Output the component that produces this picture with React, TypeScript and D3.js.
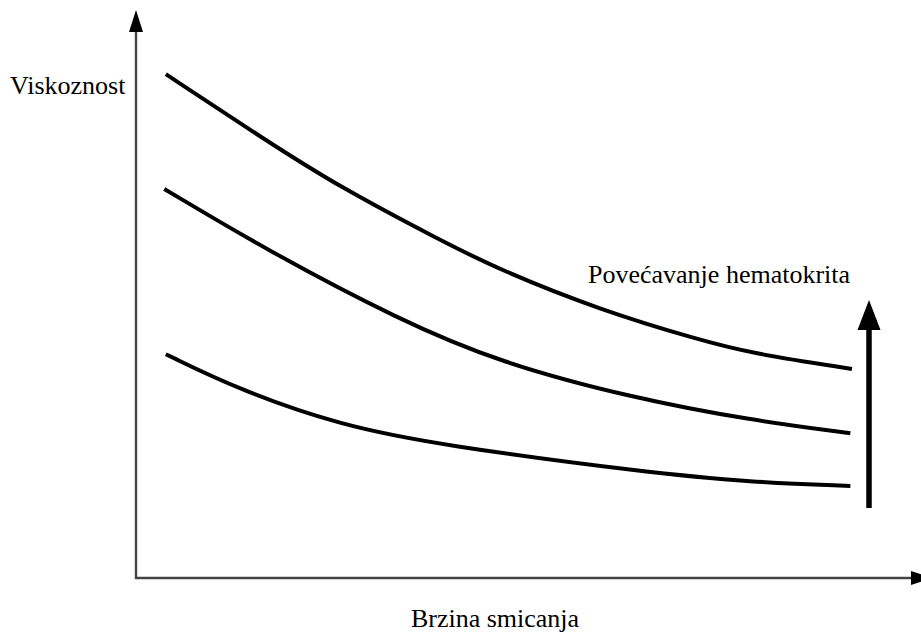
import React from "react";
import * as d3 from "d3";

const xLabel = "Brzina smicanja";
const yLabel = "Viskoznost";
const arrowLabel = "Povećavanje hematokrita";

// shear rate (0..100) / viscosity (0..100), arbitrary units
const topX = [3.8, 16.7, 26.0, 38.7, 46.4, 59.1, 71.8, 78.2, 91.2];
const topY = [88.7, 76.9, 68.8, 59.5, 54.2, 47.2, 41.9, 39.6, 36.8];
const midX = [3.6, 16.7, 33.6, 46.4, 63.3, 78.2, 91.0];
const midY = [68.5, 57.7, 45.4, 37.9, 31.7, 27.8, 25.5];
const lowX = [3.8, 13.2, 26.0, 38.7, 65.5, 78.2, 91.0];
const lowY = [39.4, 33.1, 26.9, 23.4, 18.5, 16.9, 16.2];

const series = [
  { xs: topX, ys: topY },
  { xs: midX, ys: midY },
  { xs: lowX, ys: lowY },
];

export default function App() {
  const W = 921, H = 633;
  const x = d3.scaleLinear().domain([0, 100]).range([136, 921]);
  const y = d3.scaleLinear().domain([0, 100]).range([578, 10]);
  const line = d3
    .line<[number, number]>()
    .x((d) => x(d[0]))
    .y((d) => y(d[1]))
    .curve(d3.curveBasis);

  const x0 = x(0), y0 = y(0);
  const yTop = y(100);
  const arrowX = 869;
  const arrowTop = 300, arrowBottom = 508;

  return (
    <svg
      width={W}
      height={H}
      style={{ position: "absolute", left: 0, top: 0, background: "#fff" }}
    >
      {/* axes */}
      <line x1={x0} y1={y0 + 1} x2={x0} y2={yTop + 20} stroke="#444" strokeWidth={2.4} />
      <line x1={x0 - 1} y1={y0} x2={914} y2={y0} stroke="#444" strokeWidth={2.4} />
      <polygon
        points={`${x0},${yTop} ${x0 - 7},${yTop + 22} ${x0 + 7},${yTop + 22}`}
        fill="#000"
      />
      <polygon
        points={`932,${y0} 911,${y0 - 7} 911,${y0 + 7}`}
        fill="#000"
      />

      {/* curves */}
      {series.map((s, i) => (
        <path
          key={i}
          d={line(s.xs.map((v, j) => [v, s.ys[j]]) as [number, number][]) || ""}
          fill="none"
          stroke="#000"
          strokeWidth={4}
        />
      ))}

      {/* increasing hematocrit arrow */}
      <line
        x1={arrowX}
        y1={arrowBottom}
        x2={arrowX}
        y2={arrowTop + 25}
        stroke="#000"
        strokeWidth={5.5}
      />
      <polygon
        points={`${arrowX},${arrowTop} ${arrowX - 11.5},${arrowTop + 30} ${arrowX + 11.5},${arrowTop + 30}`}
        fill="#000"
      />

      {/* labels */}
      <g fontFamily="'Liberation Serif', 'Times New Roman', serif" fontSize={26} fill="#000">
        <text x={10} y={94}>{yLabel}</text>
        <text x={495} y={627} textAnchor="middle">{xLabel}</text>
        <text x={588} y={283}>{arrowLabel}</text>
      </g>
    </svg>
  );
}
